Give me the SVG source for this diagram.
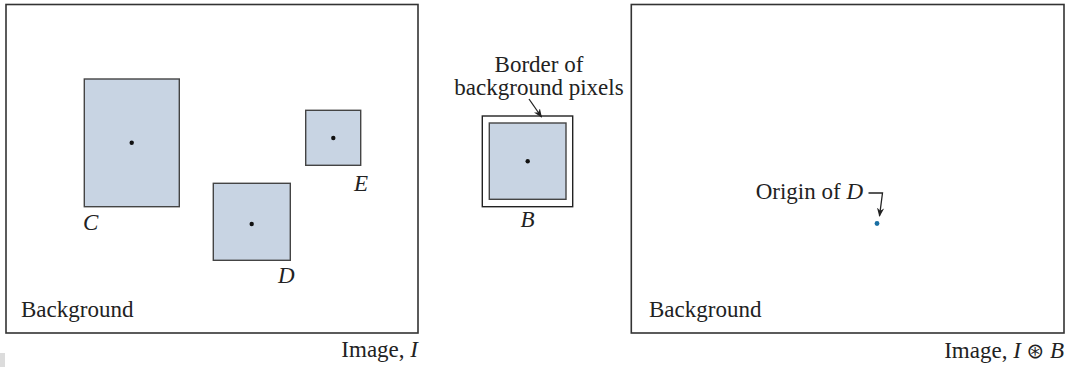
<svg xmlns="http://www.w3.org/2000/svg" width="1070" height="367" viewBox="0 0 1070 367">
<style>
text{font-family:"Liberation Serif","Times New Roman",serif;font-size:23px;fill:#222}
.it{font-style:italic}
.frame{fill:#fff;stroke:#333;stroke-width:1.6}
.blk{fill:#c8d4e3;stroke:#444;stroke-width:1.4}
.outer{fill:#fff;stroke:#222;stroke-width:1.4}
.dot{fill:#111}
.conn{fill:none;stroke:#222;stroke-width:1.3}
</style>
<defs>
<marker id="ah" viewBox="0 0 10 10" refX="9" refY="5" markerWidth="9" markerHeight="9" orient="auto" markerUnits="userSpaceOnUse">
<path d="M0,1 L10,5 L0,9 L3,5 z" fill="#222"/>
</marker>
</defs>
<rect x="0" y="353" width="5" height="14" fill="#dcdcdc"/>
<g id="imageI">
<rect class="frame" x="6" y="4.5" width="412" height="328.5"/>
<text x="21" y="317">Background</text>
<text x="418" y="357" text-anchor="end">Image, <tspan class="it">I</tspan></text>
</g>
<g id="C">
<rect class="blk" x="84.3" y="79" width="95" height="127.7"/>
<circle class="dot" cx="131.7" cy="142.7" r="2.2"/>
<text class="it" x="83" y="230">C</text>
</g>
<g id="D">
<rect class="blk" x="213.3" y="183.3" width="77" height="77"/>
<circle class="dot" cx="251.7" cy="224" r="2.2"/>
<text class="it" x="278" y="283">D</text>
</g>
<g id="E">
<rect class="blk" x="305.7" y="110.3" width="55" height="55"/>
<circle class="dot" cx="333.3" cy="138" r="2.2"/>
<text class="it" x="354" y="191">E</text>
</g>
<g id="B">
<rect class="outer" x="482.3" y="116" width="90.4" height="90.7"/>
<rect class="blk" x="489.3" y="123" width="76.7" height="76.3"/>
<circle class="dot" cx="527.7" cy="161.3" r="2.2"/>
<text class="it" x="520.5" y="227">B</text>
<text x="539" y="72" text-anchor="middle">Border of</text>
<text x="539" y="95" text-anchor="middle">background pixels</text>
</g>
<g id="imageIB">
<rect class="frame" x="631.3" y="4.5" width="432.7" height="328.5"/>
<text x="649" y="317">Background</text>
<text x="1064" y="358" text-anchor="end">Image, <tspan class="it">I</tspan> <tspan font-family="DejaVu Sans, sans-serif" font-size="21">⊛</tspan> <tspan class="it">B</tspan></text>
<text x="863" y="199" text-anchor="end">Origin of <tspan class="it">D</tspan></text>
<circle cx="877" cy="223.5" r="2.4" fill="#1a6fa3"/>
</g>
<g id="connectors">
<path class="conn" d="M529,99 L541.5,117" marker-end="url(#ah)"/>
<path class="conn" d="M868.5,193 L882.5,193 L879.5,216" marker-end="url(#ah)"/>
</g>
</svg>
